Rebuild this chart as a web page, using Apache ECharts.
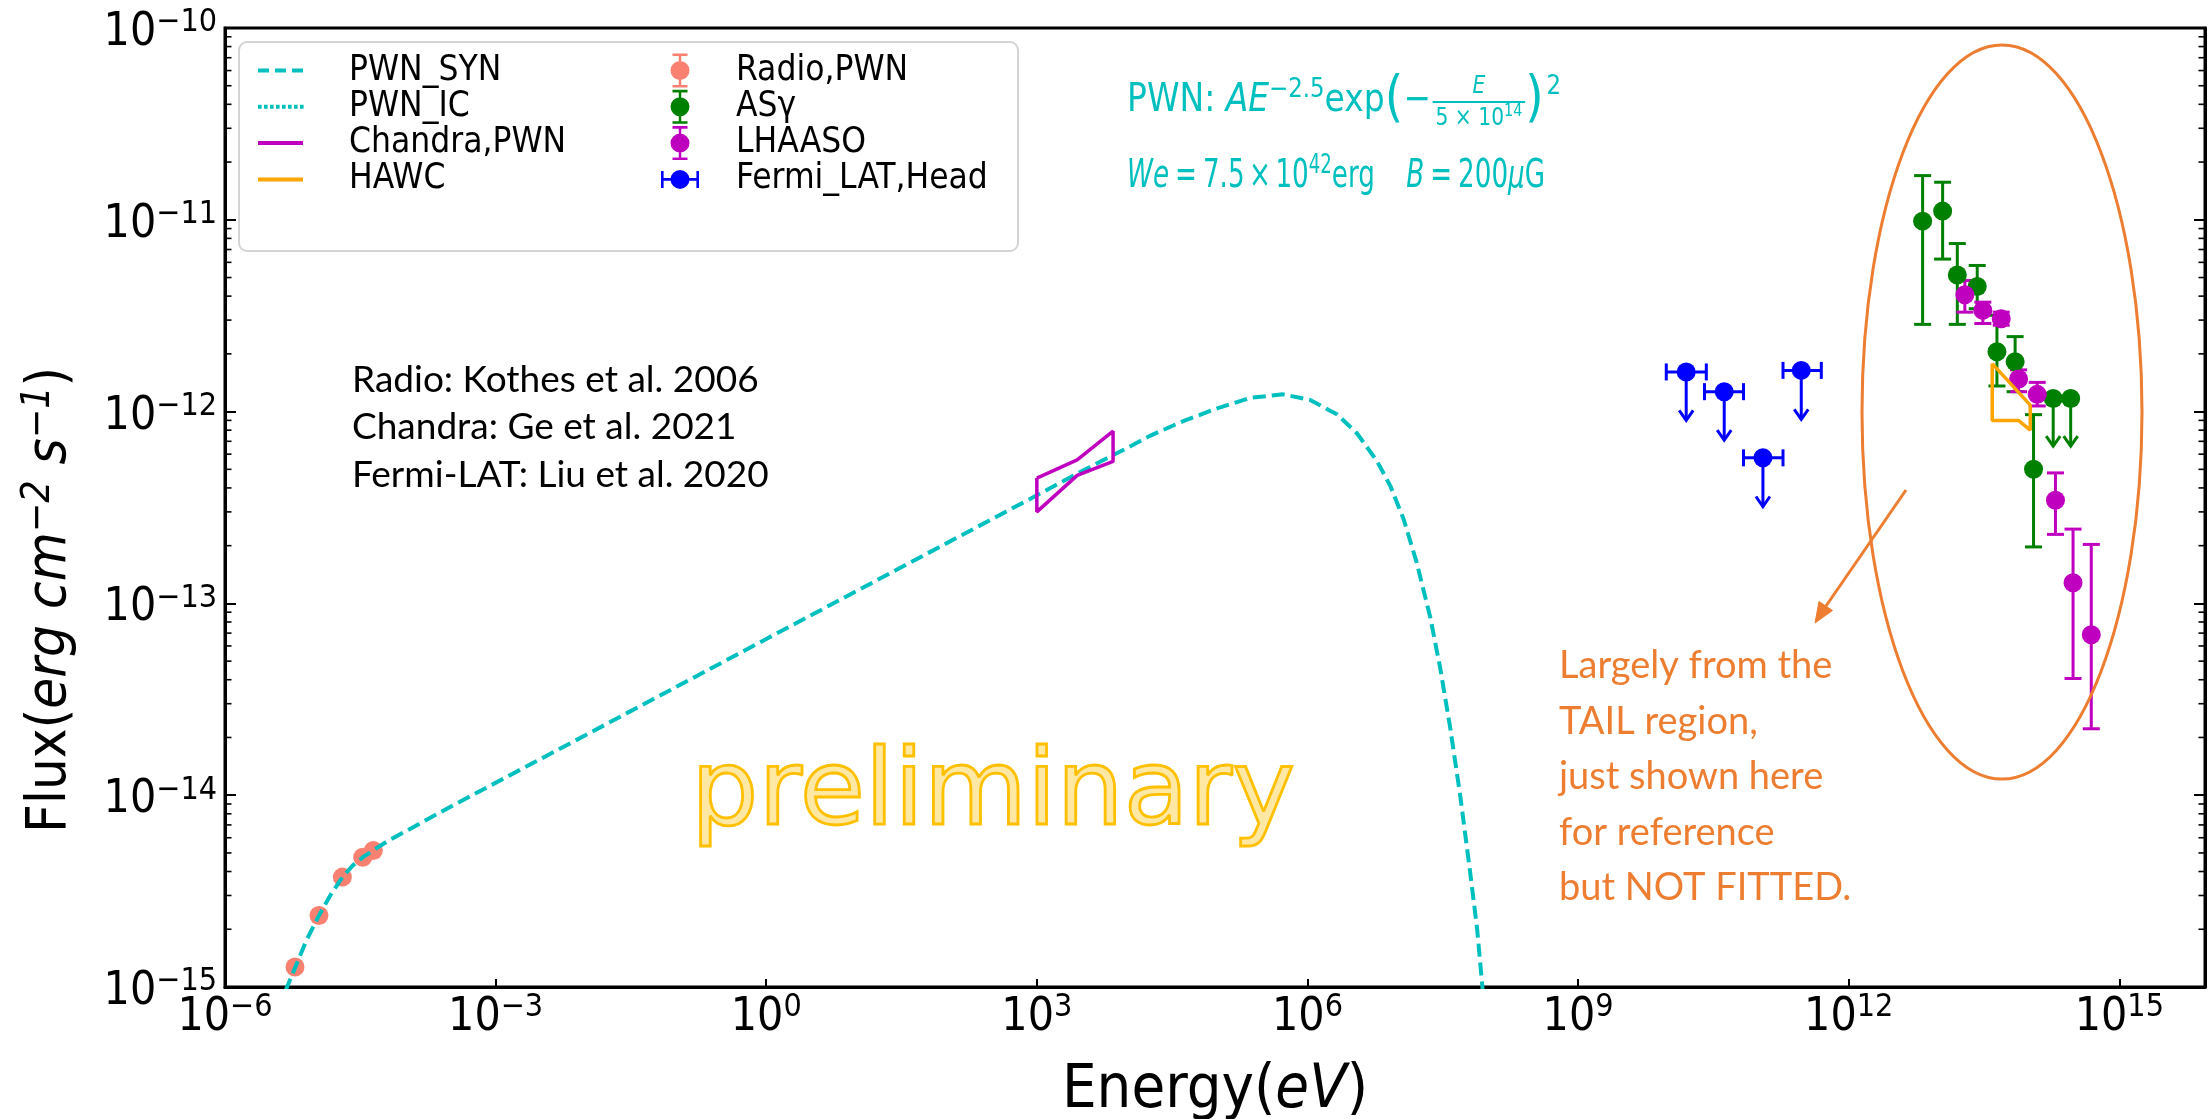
<!DOCTYPE html>
<html>
<head>
<meta charset="utf-8">
<title>PWN SED</title>
<script src="https://cdn.jsdelivr.net/npm/echarts@6.0.0/dist/echarts.min.js"></script>
<style>
html,body{margin:0;padding:0;background:#ffffff;}
#chart{width:2208px;height:1119px;}
</style>
</head>
<body>
<div id="chart"></div>
<script>
// ---------------- data (energy in eV, flux in erg cm^-2 s^-1) ----------------
const xTickExponents = [-6, -3, 0, 3, 6, 9, 12, 15];
const yTickExponents = [-15, -14, -13, -12, -11, -10];

// PWN synchrotron model curve
const synE = [4.68e-6, 6.03e-6, 7.94e-6, 1.10e-5, 1.48e-5, 2.0e-5, 2.63e-5, 3.39e-5, 4.37e-5, 6.31e-5, 3.16e-4, 1e-2, 1, 100, 1e3, 3.16e3, 1e4, 1.82e4, 4.27e4, 1e5, 2.34e5, 5.37e5, 1.07e6, 2.14e6, 3.55e6, 5.89e6, 8.32e6, 1.17e7, 1.62e7, 2.29e7, 2.95e7, 3.80e7, 4.90e7, 6.31e7, 7.59e7, 8.71e7, 9.12e7];
const synF = [9.55e-16, 1.27e-15, 1.74e-15, 2.36e-15, 3.02e-15, 3.74e-15, 4.32e-15, 4.75e-15, 5.15e-15, 5.75e-15, 8.71e-15, 2.06e-14, 6.52e-14, 2.06e-13, 3.66e-13, 4.90e-13, 6.46e-13, 7.50e-13, 8.95e-13, 1.04e-12, 1.18e-12, 1.23e-12, 1.15e-12, 9.66e-13, 7.69e-13, 5.53e-13, 4.08e-13, 2.73e-13, 1.64e-13, 8.53e-14, 4.65e-14, 2.29e-14, 1.02e-14, 4.09e-15, 2.02e-15, 9.93e-16, 7.94e-16];
// PWN inverse-Compton model (not visible in the plotted range)
const icE = [];
const icF = [];

// Radio, PWN
const radioE = [5.97e-6, 1.10e-5, 2.0e-5, 3.37e-5, 4.41e-5];
const radioF = [1.27e-15, 2.36e-15, 3.74e-15, 4.75e-15, 5.15e-15];

// Chandra butterfly (closed outline)
const chandraE = [1e3, 2.8e3, 7e3, 7e3, 2.8e3, 1e3, 1e3];
const chandraF = [4.5e-13, 5.6e-13, 7.9e-13, 5.5e-13, 4.65e-13, 3.0e-13, 4.5e-13];

// HAWC outline
const hawcE = [3.9e13, 1.03e14, 1.03e14, 7.6e13, 3.9e13, 3.9e13];
const hawcF = [1.78e-12, 1.08e-12, 8.0e-13, 9.0e-13, 9.0e-13, 1.78e-12];

// AS-gamma
const asgE  = [6.6e12, 1.10e13, 1.60e13, 2.66e13, 4.40e13, 7.0e13, 1.12e14];
const asgF  = [9.84e-12, 1.11e-11, 5.15e-12, 4.49e-12, 2.05e-12, 1.82e-12, 5.01e-13];
const asgLo = [2.85e-12, 6.24e-12, 2.85e-12, 3.44e-12, 1.36e-12, 1.27e-12, 1.97e-13];
const asgHi = [1.70e-11, 1.57e-11, 7.52e-12, 5.78e-12, 3.18e-12, 2.46e-12, 9.64e-13];
const asgUlE = [1.85e14, 2.89e14];
const asgUlF = [1.17e-12, 1.17e-12];
const asgUlTip = [6.6e-13, 6.6e-13];

// LHAASO
const lhaasoE  = [1.94e13, 3.07e13, 4.91e13, 7.65e13, 1.23e14, 1.96e14, 3.07e14, 4.89e14];
const lhaasoF  = [4.07e-12, 3.37e-12, 3.05e-12, 1.48e-12, 1.23e-12, 3.45e-13, 1.28e-13, 6.87e-14];
const lhaasoLo = [3.30e-12, 2.88e-12, 2.82e-12, 1.27e-12, 1.07e-12, 2.29e-13, 4.06e-14, 2.22e-14];
const lhaasoHi = [4.82e-12, 3.72e-12, 3.30e-12, 1.65e-12, 1.42e-12, 4.79e-13, 2.44e-13, 2.03e-13];

// Fermi-LAT, Head (upper limits)
const fermiE   = [1.58e10, 4.17e10, 1.12e11, 2.98e11];
const fermiElo = [9.5e9, 2.52e10, 6.82e10, 1.87e11];
const fermiEhi = [2.64e10, 6.82e10, 1.87e11, 4.97e11];
const fermiF   = [1.61e-12, 1.27e-12, 5.74e-13, 1.64e-12];
const fermiTip = [9.0e-13, 7.1e-13, 3.2e-13, 9.1e-13];

// ---------------- styling ----------------
const FONT = "'DejaVu Sans Condensed','DejaVu Sans',sans-serif";
const NOTE_FONT = "Lato,'Open Sans',sans-serif";
const C_CYAN = '#00bfbf', C_SALMON = '#fa8072', C_GREEN = '#008000', C_MAG = '#bf00bf',
      C_BLUE = '#0000ff', C_ORANGE = '#ffa500', C_NOTE = '#ed7d31';
const X_MIN = -6, X_MAX = 15.95, Y_MIN = -15, Y_MAX = -10;

const L10 = Math.log10;
const pts = (E, F) => E.map((e, i) => [L10(e), L10(F[i])]);

function supLabel(v) {
  const r = Math.round(v);
  return '{b|10}{s|' + (r < 0 ? '\u2212' + (-r) : r) + '}';
}
const tickRich = {
  b: { fontSize: 46, fontFamily: FONT, color: '#000', lineHeight: 52 },
  s: { fontSize: 32, fontFamily: FONT, color: '#000', lineHeight: 32, verticalAlign: 'top' }
};

// minor tick positions on the log y axis (2..9 x 10^n)
const yMinor = [];
for (let n = Y_MIN; n < Y_MAX; n++) for (let k = 2; k <= 9; k++) yMinor.push([X_MIN, n + L10(k)]);

const lineSt = (col, w) => ({ stroke: col, lineWidth: w || 3, fill: null });

function minorTickRender(params, api) {
  const v = api.value(1);
  const pL = api.coord([X_MIN, v]), pR = api.coord([X_MAX, v]);
  return { type: 'group', children: [
    { type: 'line', shape: { x1: pL[0], y1: pL[1], x2: pL[0] + 6.5, y2: pL[1] }, style: lineSt('#000', 1.6) },
    { type: 'line', shape: { x1: pR[0], y1: pR[1], x2: pR[0] - 6.5, y2: pR[1] }, style: lineSt('#000', 1.6) }
  ]};
}
const vErr = (col) => (params, api) => {
  const x = api.value(0), lo = api.value(2), hi = api.value(3);
  const a = api.coord([x, lo]), b = api.coord([x, hi]), w = 8.5, st = lineSt(col, 3);
  return { type: 'group', children: [
    { type: 'line', shape: { x1: a[0], y1: a[1], x2: b[0], y2: b[1] }, style: st },
    { type: 'line', shape: { x1: a[0] - w, y1: a[1], x2: a[0] + w, y2: a[1] }, style: st },
    { type: 'line', shape: { x1: b[0] - w, y1: b[1], x2: b[0] + w, y2: b[1] }, style: st }
  ]};
};
const ulArrow = (col, withX) => (params, api) => {
  const x = api.value(0), y = api.value(1), tip = api.value(2);
  const p = api.coord([x, y]), t = api.coord([x, tip]), st = lineSt(col, 3);
  const ch = [
    { type: 'line', shape: { x1: p[0], y1: p[1], x2: t[0], y2: t[1] }, style: st },
    { type: 'polyline', shape: { points: [[t[0] - 7, t[1] - 10], [t[0], t[1]], [t[0] + 7, t[1] - 10]] }, style: st }
  ];
  if (withX) {
    const l = api.coord([api.value(3), y]), r = api.coord([api.value(4), y]), h = 8.5;
    ch.push({ type: 'line', shape: { x1: l[0], y1: l[1], x2: r[0], y2: r[1] }, style: st });
    ch.push({ type: 'line', shape: { x1: l[0], y1: l[1] - h, x2: l[0], y2: l[1] + h }, style: st });
    ch.push({ type: 'line', shape: { x1: r[0], y1: r[1] - h, x2: r[0], y2: r[1] + h }, style: st });
  }
  return { type: 'group', children: ch };
};

// legend icons (bounding boxes padded with bare move-to points)
const ICON_DASH = 'path://M0,0M90,14M4,5h11v4h-11zM21,5h11v4h-11zM38,5h11v4h-11z';
let dots = 'path://M0,0M90,14';
for (let i = 0; i < 8; i++) dots += 'M' + (4 + i * 6) + ',5h3.6v4h-3.6z';
const ICON_DOT = dots;
const ICON_SOLID = 'path://M0,0M90,14M4,5h45v4h-45z';
const ICON_VERR = 'path://M0,0M70,34M17.75,0h2.5v34h-2.5zM11.5,0h15v2.6h-15zM11.5,31.4h15v2.6h-15zM28.5,17a9.5,9.5 0 1,1 -19,0a9.5,9.5 0 1,1 19,0z';
const ICON_HERR = 'path://M0,0M70,34M0,15.7h38v2.6h-38zM0,8.5h2.6v17h-2.6zM35.4,8.5h2.6v17h-2.6zM28.5,17a9.5,9.5 0 1,1 -19,0a9.5,9.5 0 1,1 19,0z';

// ---------------- free text layout helpers ----------------
const mctx = document.createElement('canvas').getContext('2d');
function tw(t, s, it) { mctx.font = (it ? 'italic ' : '') + s + 'px ' + FONT; return mctx.measureText(t).width; }
function txt(t, x, yMid, s, it, col) {
  return { type: 'text', x: x, y: yMid, silent: true,
    style: { text: t, fontSize: s, fontFamily: FONT, fontStyle: it ? 'italic' : 'normal', fill: col, align: 'left', verticalAlign: 'middle' } };
}
// lays pieces out from local x = 0, then squeezes the row horizontally to the width it has in the picture
function formulaRow(pieces, x0, base, targetW, col) {
  const out = []; let x = 0;
  pieces.forEach(p => {
    if (p.frac) {
      const numW = tw(p.num, p.fs, true);
      const denW = tw(p.den, p.fs) + tw(p.denSup, p.ss);
      const W = Math.max(numW, denW) + 6;
      const barY = base - 13;
      out.push({ type: 'line', silent: true, shape: { x1: x, y1: barY, x2: x + W, y2: barY }, style: { stroke: col, lineWidth: 1.8 } });
      out.push(txt(p.num, x + (W - numW) / 2, barY - 15, p.fs, true, col));
      const dx = x + (W - denW) / 2;
      out.push(txt(p.den, dx, barY + 17, p.fs, false, col));
      out.push(txt(p.denSup, dx + tw(p.den, p.fs), barY + 10, p.ss, false, col));
      x += W + (p.g || 0);
      return;
    }
    out.push(txt(p.t, x, base - (p.up || 0) - 0.36 * p.s, p.s, p.it, col));
    x += tw(p.t, p.s, p.it) + (p.g || 0);
  });
  return { type: 'group', x: x0, y: 0, scaleX: targetW / x, z: 50, silent: true, children: out };
}
const FS = 39, SS = 27;
const formula1 = formulaRow([
  { t: 'PWN: ', s: FS }, { t: 'AE', s: FS, it: true }, { t: '\u22122.5', s: SS, up: 15 },
  { t: 'exp', s: FS }, { t: '(', s: 56, up: -6 }, { t: '\u2212', s: FS, g: 2 },
  { frac: true, num: 'E', den: '5 \u00d7 10', denSup: '14', fs: 24, ss: 17 },
  { t: ')', s: 56, up: -6, g: 3 }, { t: '2', s: SS, up: 18 }
], 1127, 115, 434, C_CYAN);
const formula2 = formulaRow([
  { t: 'We', s: FS, it: true, g: 8 }, { t: '=', s: FS, g: 8 }, { t: '7.5', s: FS, g: 6 }, { t: '\u00d7', s: FS, g: 6 },
  { t: '10', s: FS }, { t: '42', s: SS, up: 15 },
  { t: 'erg', s: FS, g: 42 }, { t: 'B', s: FS, it: true, g: 8 }, { t: '=', s: FS, g: 8 }, { t: '200', s: FS },
  { t: '\u03bc', s: FS, it: true }, { t: 'G', s: FS }
], 1127, 191, 418, C_CYAN);

// ---------------- chart ----------------
const chart = echarts.init(document.getElementById('chart'), null, { renderer: 'canvas' });

const option = {
  animation: false,
  backgroundColor: '#ffffff',
  textStyle: { fontFamily: FONT },
  grid: { left: 225, right: 3, top: 28, bottom: 132, containLabel: false, outerBoundsMode: 'none',
    show: true, borderColor: '#000', borderWidth: 3, backgroundColor: 'transparent' },
  xAxis: {
    type: 'value', min: X_MIN, max: X_MAX, interval: 3,
    axisLine: { show: true, onZero: false, lineStyle: { color: '#000', width: 3 } },
    axisTick: { show: true, inside: true, length: 8, lineStyle: { color: '#000', width: 2 } },
    splitLine: { show: false },
    axisLabel: {
      margin: 5, color: '#000', rich: tickRich,
      formatter: v => (Math.abs(v - Math.round(v)) < 1e-6 && xTickExponents.includes(Math.round(v))) ? supLabel(v) : ''
    },
    name: '{n|Energy(}{i|eV}{n|)}', nameLocation: 'middle', nameGap: 74, nameMoveOverlap: false,
    nameTextStyle: { rich: {
      n: { fontSize: 61, fontFamily: FONT, color: '#000' },
      i: { fontSize: 61, fontFamily: FONT, fontStyle: 'italic', color: '#000' } } }
  },
  yAxis: [{
    type: 'value', min: Y_MIN, max: Y_MAX, interval: 1, position: 'left',
    axisLine: { show: true, onZero: false, lineStyle: { color: '#000', width: 3 } },
    axisTick: { show: true, inside: true, length: 11, lineStyle: { color: '#000', width: 2 } },
    splitLine: { show: false },
    axisLabel: {
      margin: 8, color: '#000', rich: tickRich, padding: [10, 0, 0, 0],
      formatter: v => yTickExponents.includes(Math.round(v)) ? supLabel(v) : ''
    }
  }, {
    type: 'value', min: Y_MIN, max: Y_MAX, interval: 1, position: 'right',
    axisLine: { show: true, onZero: false, lineStyle: { color: '#000', width: 3 } },
    axisTick: { show: true, inside: true, length: 11, lineStyle: { color: '#000', width: 2 } },
    splitLine: { show: false }, axisLabel: { show: false }
  }],
  legend: [{
    orient: 'vertical', left: 254, top: 53, padding: 0, itemGap: 1.3,
    itemWidth: 90, itemHeight: 14, selectedMode: false,
    itemStyle: { borderWidth: 0 },
    textStyle: { fontSize: 35, fontFamily: FONT, color: '#000', lineHeight: 34 },
    data: [
      { name: 'PWN_SYN', icon: ICON_DASH, itemStyle: { color: C_CYAN, borderWidth: 0 } },
      { name: 'PWN_IC', icon: ICON_DOT, itemStyle: { color: C_CYAN, borderWidth: 0 } },
      { name: 'Chandra,PWN', icon: ICON_SOLID, itemStyle: { color: C_MAG, borderWidth: 0 } },
      { name: 'HAWC', icon: ICON_SOLID, itemStyle: { color: C_ORANGE, borderWidth: 0 } }
    ]
  }, {
    orient: 'vertical', left: 661, top: 53, padding: 0, itemGap: 1.3,
    itemWidth: 70, itemHeight: 34, selectedMode: false,
    itemStyle: { borderWidth: 0 },
    textStyle: { fontSize: 35, fontFamily: FONT, color: '#000', lineHeight: 34 },
    data: [
      { name: 'Radio,PWN', icon: ICON_VERR, itemStyle: { color: C_SALMON, borderWidth: 0 } },
      { name: 'AS\u03b3', icon: ICON_VERR, itemStyle: { color: C_GREEN, borderWidth: 0 } },
      { name: 'LHAASO', icon: ICON_VERR, itemStyle: { color: C_MAG, borderWidth: 0 } },
      { name: 'Fermi_LAT,Head', icon: ICON_HERR, itemStyle: { color: C_BLUE, borderWidth: 0 } }
    ]
  }],
  graphic: [
    { type: 'rect', z: 1, silent: true, shape: { x: 239, y: 42, width: 779, height: 209, r: 8 },
      style: { fill: 'rgba(255,255,255,0.8)', stroke: '#d4d4d4', lineWidth: 2 } },
    { type: 'text', z: 50, silent: true, x: 50, y: 600, rotation: Math.PI / 2,
      style: { text: '{n|Flux(}{i|erg cm}{s|\u22122}{i| s}{s|\u22121}{n|)}', align: 'center', verticalAlign: 'middle',
        rich: { n: { fontSize: 56, fontFamily: FONT, fill: '#000', lineHeight: 62 },
                i: { fontSize: 56, fontFamily: FONT, fontStyle: 'italic', fill: '#000', lineHeight: 62 },
                s: { fontSize: 39, fontFamily: FONT, fontStyle: 'italic', fill: '#000', lineHeight: 40, verticalAlign: 'top' } } } },
    formula1, formula2,
    { type: 'text', z: 50, silent: true, x: 352, y: 356,
      style: { text: 'Radio: Kothes et al. 2006\nChandra: Ge et al. 2021\nFermi-LAT: Liu et al. 2020',
        fontSize: 37, fontFamily: NOTE_FONT, fill: '#000', lineHeight: 47.5, align: 'left', verticalAlign: 'top' } },
    { type: 'text', z: 50, silent: true, x: 993, y: 796,
      style: { text: 'preliminary', fontSize: 106, fontFamily: "'DejaVu Sans',sans-serif",
        fill: 'rgba(255,192,0,0.36)', stroke: '#ffc000', lineWidth: 2.8, align: 'center', verticalAlign: 'middle' } },
    { type: 'ellipse', z: 50, silent: true, shape: { cx: 2002, cy: 412, rx: 140, ry: 367 },
      style: { fill: null, stroke: C_NOTE, lineWidth: 3 } },
    { type: 'line', z: 50, silent: true, shape: { x1: 1906, y1: 490, x2: 1826, y2: 606 },
      style: { stroke: C_NOTE, lineWidth: 3 } },
    { type: 'polygon', z: 50, silent: true, shape: { points: [[1815, 623], [1832.5, 610.5], [1819, 601.5]] },
      style: { fill: C_NOTE, stroke: C_NOTE, lineWidth: 1 } },
    { type: 'text', z: 50, silent: true, x: 1559, y: 638,
      style: { text: 'Largely from the\nTAIL region,\njust shown here\nfor reference\nbut NOT FITTED.',
        fontSize: 38, fontFamily: NOTE_FONT, fill: C_NOTE, lineHeight: 55.6, align: 'left', verticalAlign: 'top' } }
  ],
  series: [
    { name: 'minorTicks', type: 'custom', silent: true, clip: false, z: 6, data: yMinor, renderItem: minorTickRender },
    { name: 'PWN_SYN', type: 'line', data: pts(synE, synF), symbol: 'none', silent: true,
      lineStyle: { color: C_CYAN, width: 4, type: [13, 6] }, itemStyle: { color: C_CYAN } },
    { name: 'PWN_IC', type: 'line', data: pts(icE, icF), symbol: 'none', silent: true,
      lineStyle: { color: C_CYAN, width: 4, type: 'dotted' }, itemStyle: { color: C_CYAN } },
    { name: 'Chandra,PWN', type: 'line', data: pts(chandraE, chandraF), symbol: 'none', silent: true,
      lineStyle: { color: C_MAG, width: 3.5 }, itemStyle: { color: C_MAG } },
    { name: 'HAWC', type: 'line', data: pts(hawcE, hawcF), symbol: 'none', silent: true,
      lineStyle: { color: C_ORANGE, width: 3.5 }, itemStyle: { color: C_ORANGE } },
    { name: 'Radio,PWN', type: 'scatter', data: pts(radioE, radioF), symbolSize: 19, silent: true,
      itemStyle: { color: C_SALMON, opacity: 1 } },
    { name: 'AS\u03b3', type: 'custom', silent: true, renderItem: vErr(C_GREEN),
      data: asgE.map((e, i) => [L10(e), L10(asgF[i]), L10(asgLo[i]), L10(asgHi[i])]) },
    { name: 'AS\u03b3', type: 'scatter', data: pts(asgE, asgF), symbolSize: 19, silent: true,
      itemStyle: { color: C_GREEN, opacity: 1 } },
    { name: 'AS\u03b3', type: 'custom', silent: true, renderItem: ulArrow(C_GREEN, false),
      data: asgUlE.map((e, i) => [L10(e), L10(asgUlF[i]), L10(asgUlTip[i])]) },
    { name: 'AS\u03b3', type: 'scatter', data: pts(asgUlE, asgUlF), symbolSize: 19, silent: true,
      itemStyle: { color: C_GREEN, opacity: 1 } },
    { name: 'LHAASO', type: 'custom', silent: true, renderItem: vErr(C_MAG),
      data: lhaasoE.map((e, i) => [L10(e), L10(lhaasoF[i]), L10(lhaasoLo[i]), L10(lhaasoHi[i])]) },
    { name: 'LHAASO', type: 'scatter', data: pts(lhaasoE, lhaasoF), symbolSize: 19, silent: true,
      itemStyle: { color: C_MAG, opacity: 1 } },
    { name: 'Fermi_LAT,Head', type: 'custom', silent: true, renderItem: ulArrow(C_BLUE, true),
      data: fermiE.map((e, i) => [L10(e), L10(fermiF[i]), L10(fermiTip[i]), L10(fermiElo[i]), L10(fermiEhi[i])]) },
    { name: 'Fermi_LAT,Head', type: 'scatter', data: pts(fermiE, fermiF), symbolSize: 19, silent: true,
      itemStyle: { color: C_BLUE, opacity: 1 } }
  ]
};
chart.setOption(option);
</script>
</body>
</html>
